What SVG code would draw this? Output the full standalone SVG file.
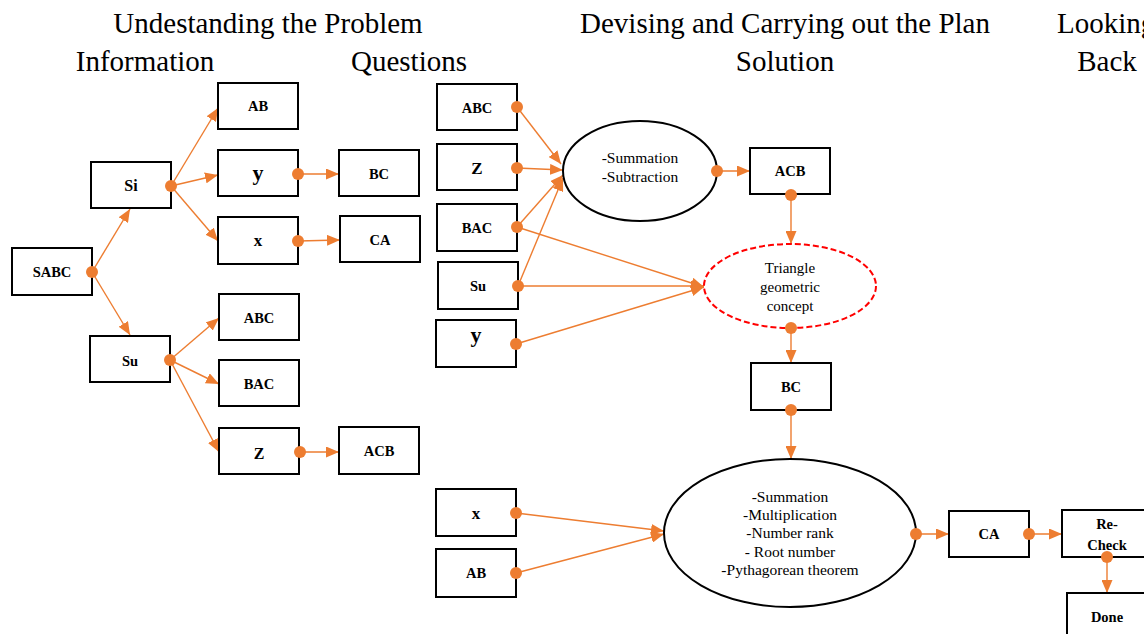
<svg xmlns="http://www.w3.org/2000/svg" width="1144" height="634" viewBox="0 0 1144 634">
<style>
.h{font-family:"Liberation Serif","Times New Roman",serif;font-size:29px;fill:#000;text-anchor:middle}
.box{fill:#fff;stroke:#000;stroke-width:2}
.lb{font-family:"Liberation Serif","Times New Roman",serif;font-weight:bold;font-size:14.5px;fill:#000;text-anchor:middle}
.et{font-family:"Liberation Serif","Times New Roman",serif;font-size:15.5px;fill:#000;text-anchor:middle}
.c line{stroke:#ED7D31;stroke-width:1.4;marker-end:url(#ah)}
.d{fill:#ED7D31}
</style>
<defs>
<marker id="ah" markerUnits="userSpaceOnUse" markerWidth="13" markerHeight="11" refX="13" refY="5.5" orient="auto">
<path d="M0,0 L13,5.5 L0,11 z" fill="#ED7D31"/>
</marker>
</defs>
<rect width="1144" height="634" fill="#fff"/>
<g id="headings">
<text class="h" x="268" y="33">Undestanding the Problem</text>
<text class="h" x="145" y="71">Information</text>
<text class="h" x="409" y="71">Questions</text>
<text class="h" x="785" y="33">Devising and Carrying out the Plan</text>
<text class="h" x="785" y="71">Solution</text>
<text class="h" x="1057" y="33" style="text-anchor:start">Looking</text>
<text class="h" x="1107" y="71">Back</text>
</g>
<g id="connectors" class="c">
<line x1="92" y1="272" x2="130" y2="209"/>
<line x1="92" y1="272" x2="130" y2="335"/>
<line x1="171" y1="186" x2="218" y2="108"/>
<line x1="171" y1="186" x2="218" y2="175"/>
<line x1="171" y1="186" x2="218" y2="241"/>
<line x1="298" y1="174" x2="339" y2="174"/>
<line x1="298" y1="241" x2="340" y2="240"/>
<line x1="170" y1="360" x2="219" y2="318"/>
<line x1="170" y1="360" x2="219" y2="384"/>
<line x1="170" y1="360" x2="219" y2="452"/>
<line x1="300" y1="452" x2="339" y2="452"/>
<line x1="517" y1="107" x2="561" y2="164"/>
<line x1="517" y1="168" x2="563" y2="170"/>
<line x1="517" y1="227" x2="563" y2="175"/>
<line x1="518" y1="286" x2="563" y2="178"/>
<line x1="517" y1="227" x2="704" y2="287"/>
<line x1="518" y1="286" x2="704" y2="286"/>
<line x1="516" y1="344" x2="704" y2="287"/>
<line x1="717" y1="171" x2="750" y2="171"/>
<line x1="791" y1="195" x2="791" y2="244"/>
<line x1="791" y1="328" x2="791" y2="363"/>
<line x1="791" y1="410" x2="791" y2="459"/>
<line x1="516" y1="513" x2="664" y2="531"/>
<line x1="516" y1="573" x2="664" y2="534"/>
<line x1="916" y1="534" x2="949" y2="534"/>
<line x1="1029" y1="534" x2="1062" y2="534"/>
<line x1="1107" y1="557" x2="1107" y2="593"/>
</g>
<g id="n-SABC"><rect class="box" x="12" y="248" width="80" height="47"/><text class="lb" x="52" y="277">SABC</text></g>
<g id="n-Si"><rect class="box" x="91" y="162" width="80" height="46"/><text class="lb" x="131" y="191" style="font-size:16px">Si</text></g>
<g id="n-AB1"><rect class="box" x="218" y="83" width="80" height="46"/><text class="lb" x="258" y="111">AB</text></g>
<g id="n-y1"><rect class="box" x="218" y="150" width="80" height="46"/><text class="lb" x="258" y="180" style="font-size:22px">y</text></g>
<g id="n-BC1"><rect class="box" x="339" y="150" width="80" height="46"/><text class="lb" x="379" y="179">BC</text></g>
<g id="n-x1"><rect class="box" x="218" y="217" width="80" height="47"/><text class="lb" x="258" y="246" style="font-size:17px">x</text></g>
<g id="n-CA1"><rect class="box" x="340" y="216" width="80" height="46"/><text class="lb" x="380" y="245">CA</text></g>
<g id="n-Su1"><rect class="box" x="90" y="336" width="80" height="46"/><text class="lb" x="130" y="366">Su</text></g>
<g id="n-ABC1"><rect class="box" x="219" y="294" width="80" height="46"/><text class="lb" x="259" y="323">ABC</text></g>
<g id="n-BAC1"><rect class="box" x="219" y="360" width="80" height="46"/><text class="lb" x="259" y="389">BAC</text></g>
<g id="n-Z1"><rect class="box" x="219" y="428" width="80" height="46"/><text class="lb" x="259" y="459" style="font-size:16px">Z</text></g>
<g id="n-ACB1"><rect class="box" x="339" y="427" width="80" height="47"/><text class="lb" x="379" y="456">ACB</text></g>
<g id="n-ABC2"><rect class="box" x="437" y="84" width="80" height="46"/><text class="lb" x="477" y="113">ABC</text></g>
<g id="n-Z2"><rect class="box" x="437" y="144" width="80" height="46"/><text class="lb" x="477" y="174" style="font-size:17px">Z</text></g>
<g id="n-BAC2"><rect class="box" x="437" y="204" width="80" height="47"/><text class="lb" x="477" y="233">BAC</text></g>
<g id="n-Su2"><rect class="box" x="438" y="262" width="80" height="47"/><text class="lb" x="478" y="291">Su</text></g>
<g id="n-y2"><rect class="box" x="436" y="320" width="80" height="47"/><text class="lb" x="476" y="342" style="font-size:22px">y</text></g>
<g id="n-sum1"><ellipse cx="640" cy="171" rx="77" ry="50" fill="#fff" stroke="#000" stroke-width="2"/><text class="et" x="640" y="163">-Summation</text><text class="et" x="640" y="182">-Subtraction</text></g>
<g id="n-ACB2"><rect class="box" x="750" y="148" width="80" height="46"/><text class="lb" x="790" y="176">ACB</text></g>
<g id="n-tri"><ellipse cx="790" cy="286" rx="86" ry="42" fill="#fff" stroke="#FF0000" stroke-width="2" stroke-dasharray="6,3"/><text class="et" x="790" y="273" style="font-size:15px">Triangle</text><text class="et" x="790" y="292" style="font-size:15px">geometric</text><text class="et" x="790" y="311" style="font-size:15px">concept</text></g>
<g id="n-BC2"><rect class="box" x="751" y="363" width="80" height="47"/><text class="lb" x="791" y="392">BC</text></g>
<g id="n-x2"><rect class="box" x="436" y="489" width="80" height="47"/><text class="lb" x="476" y="519" style="font-size:17px">x</text></g>
<g id="n-AB2"><rect class="box" x="436" y="549" width="80" height="48"/><text class="lb" x="476" y="578">AB</text></g>
<g id="n-sum2"><ellipse cx="790" cy="533" rx="126" ry="74" fill="#fff" stroke="#000" stroke-width="2"/><text class="et" x="790" y="502">-Summation</text><text class="et" x="790" y="520">-Multiplication</text><text class="et" x="790" y="538">-Number rank</text><text class="et" x="790" y="557">- Root number</text><text class="et" x="790" y="575">-Pythagorean theorem</text></g>
<g id="n-CA2"><rect class="box" x="949" y="511" width="80" height="46"/><text class="lb" x="989" y="539">CA</text></g>
<g id="n-recheck"><rect class="box" x="1062" y="510" width="90" height="47"/><text class="lb" x="1107" y="529">Re-</text><text class="lb" x="1107" y="550">Check</text></g>
<g id="n-done"><rect class="box" x="1067" y="593" width="90" height="50"/><text class="lb" x="1107" y="622">Done</text></g>
<g id="dots" class="d">
<circle cx="92" cy="272" r="6"/>
<circle cx="171" cy="186" r="6"/>
<circle cx="298" cy="174" r="6"/>
<circle cx="298" cy="241" r="6"/>
<circle cx="170" cy="360" r="6"/>
<circle cx="300" cy="452" r="6"/>
<circle cx="517" cy="107" r="6"/>
<circle cx="517" cy="168" r="6"/>
<circle cx="517" cy="227" r="6"/>
<circle cx="518" cy="286" r="6"/>
<circle cx="516" cy="344" r="6"/>
<circle cx="717" cy="171" r="6"/>
<circle cx="791" cy="195" r="6"/>
<circle cx="791" cy="328" r="6"/>
<circle cx="791" cy="410" r="6"/>
<circle cx="516" cy="513" r="6"/>
<circle cx="516" cy="573" r="6"/>
<circle cx="916" cy="534" r="6"/>
<circle cx="1029" cy="534" r="6"/>
<circle cx="1107" cy="557" r="6"/>
</g>
</svg>
